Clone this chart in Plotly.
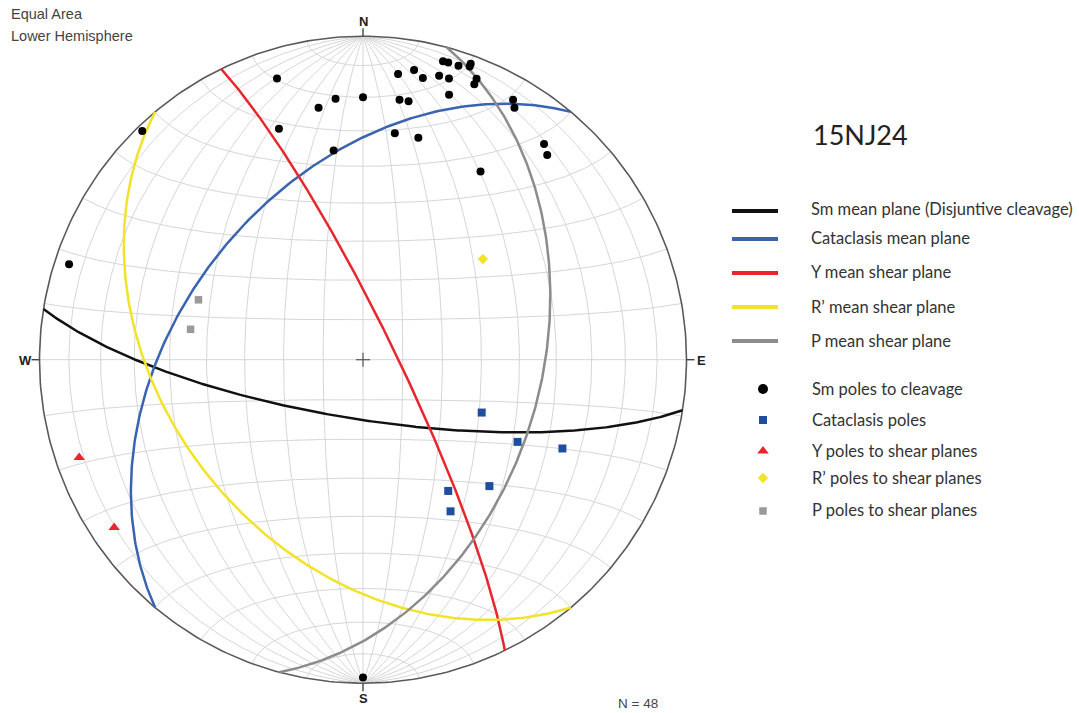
import numpy as np
import plotly.graph_objects as go

# ---------------- data (trend / plunge in degrees) ----------------
sm_trend = [343, 354, 350, 0, 7, 8, 340, 8, 316, 352, 288, 15, 16, 18, 20, 20,
            10, 12, 15, 17, 22, 22, 10, 18, 30, 31, 14, 40, 42, 32, 180]
sm_plunge = [10, 20, 22, 20, 12, 20, 25, 30, 2, 35, 5, 5, 5, 5, 3, 4,
             10, 12, 10, 10, 7, 9, 20, 15, 8, 10, 30, 14, 16, 32, 2]

cat_trend = [114, 118, 114, 135, 147, 150]
cat_plunge = [57, 45, 33, 44, 50, 45]

y_trend = [251, 236]
y_plunge = [8, 8]

rp_trend = [50]
rp_plunge = [50]

p_trend = [290, 280]
p_plunge = [45, 45]

# mean planes: dip direction / dip
plane_labels = ["Sm mean plane (Disjuntive cleavage)", "Cataclasis mean plane",
                "Y mean shear plane", "R\u2019 mean shear plane", "P mean shear plane"]
plane_dipdir = [189, 310, 64, 230, 105]
plane_dip = [75, 44, 82, 40, 44]
plane_colors = ["#111111", "#3a64b0", "#e8262e", "#f2e22a", "#8c8c8c"]

pole_labels = ["Sm poles to cleavage", "Cataclasis poles", "Y poles to shear planes",
               "R\u2019 poles to shear planes", "P poles to shear planes"]

N_TOTAL = 48

# ---------------- geometry helpers ----------------
W, H = 1079, 713
CX, CY, R = 363.0, 359.7, 323.5


def px2d(px, py):
    return (px - CX) / R, (CY - py) / R


def proj_vec(x, y, z):
    z = np.minimum(z, 0)
    d = np.sqrt(1 - z)
    return x / d, y / d


def proj_line(trend, plunge):
    t = np.radians(np.asarray(trend, float))
    p = np.radians(np.asarray(plunge, float))
    x = np.cos(p) * np.sin(t)
    y = np.cos(p) * np.cos(t)
    z = -np.sin(p)
    return proj_vec(x, y, z)


def great_circle(dipdir, dip, n=241):
    dd = np.radians(dipdir)
    dp = np.radians(dip)
    s = np.array([np.sin(dd - np.pi / 2), np.cos(dd - np.pi / 2), 0.0])
    d = np.array([np.sin(dd) * np.cos(dp), np.cos(dd) * np.cos(dp), -np.sin(dp)])
    t = np.linspace(0, np.pi, n)
    v = np.outer(np.cos(t), s) + np.outer(np.sin(t), d)
    return proj_vec(v[:, 0], v[:, 1], v[:, 2])


def small_circle_ns(alpha, n=181):
    a = np.radians(alpha)
    phi = np.linspace(0, np.pi, n)
    x = np.sin(a) * np.cos(phi)
    y = np.full_like(phi, np.cos(a))
    z = -np.sin(a) * np.sin(phi)
    return proj_vec(x, y, z)


fig = go.Figure()

# ---------------- net grid ----------------
gx, gy = [], []
for dip in range(10, 90, 10):
    for dd in (90, 270):
        X, Y = great_circle(dd, dip)
        gx += list(X) + [None]
        gy += list(Y) + [None]
X, Y = great_circle(90, 90)
gx += list(X) + [None]
gy += list(Y) + [None]
for alpha in range(10, 180, 10):
    X, Y = small_circle_ns(alpha)
    gx += list(X) + [None]
    gy += list(Y) + [None]
fig.add_trace(go.Scatter(x=gx, y=gy, mode="lines", line=dict(color="#d6d6d6", width=1),
                         hoverinfo="skip", showlegend=False))

# primitive
th = np.linspace(0, 2 * np.pi, 361)
fig.add_trace(go.Scatter(x=np.cos(th), y=np.sin(th), mode="lines",
                         line=dict(color="#5a5a5a", width=1.6), hoverinfo="skip", showlegend=False))

# ---------------- mean planes ----------------
for lab, dd, dp, col in zip(plane_labels, plane_dipdir, plane_dip, plane_colors):
    X, Y = great_circle(dd, dp)
    fig.add_trace(go.Scatter(x=X, y=Y, mode="lines", line=dict(color=col, width=2.5),
                             name=lab, showlegend=False))

# ---------------- poles ----------------
pole_sets = [
    (sm_trend, sm_plunge, "circle", "#000000", 8),
    (cat_trend, cat_plunge, "square", "#1f4e9e", 8),
    (y_trend, y_plunge, "triangle-up", "#e8262e", 10),
    (rp_trend, rp_plunge, "diamond", "#f2e22a", 8),
    (p_trend, p_plunge, "square", "#9a9a9a", 7.5),
]
for lab, (tr, pl, sym, col, sz) in zip(pole_labels, pole_sets):
    X, Y = proj_line(tr, pl)
    fig.add_trace(go.Scatter(x=X, y=Y, mode="markers", name=lab,
                             marker=dict(symbol=sym, color=col, size=sz, line=dict(width=0)),
                             showlegend=False))

# ---------------- custom legend ----------------
line_y = [211, 239, 273, 307, 341]
for yy, col in zip(line_y, plane_colors):
    x0, y0 = px2d(732, yy)
    x1, _ = px2d(778, yy)
    fig.add_trace(go.Scatter(x=[x0, x1], y=[y0, y0], mode="lines",
                             line=dict(color=col, width=4), hoverinfo="skip", showlegend=False))
mark_y = [389, 420, 451, 478, 511]
leg_sizes = [10, 8, 10, 8, 7.5]
for yy, (tr, pl, sym, col, sz), lsz in zip(mark_y, pole_sets, leg_sizes):
    xx, y0 = px2d(763, yy)
    fig.add_trace(go.Scatter(x=[xx], y=[y0], mode="markers",
                             marker=dict(symbol=sym, color=col, size=lsz, line=dict(width=0)),
                             hoverinfo="skip", showlegend=False))

annotations = []
LEG_FONT = dict(family="Lato, sans-serif", size=16.5, color="#333333")
for yy, lab in zip([209, 238, 272, 307, 341], plane_labels):
    annotations.append(dict(x=809 / W, y=1 - yy / H, xref="paper", yref="paper", text=lab,
                            showarrow=False, xanchor="left", yanchor="middle", font=LEG_FONT))
for yy, lab in zip([389, 420, 451, 478, 510], pole_labels):
    annotations.append(dict(x=810 / W, y=1 - yy / H, xref="paper", yref="paper", text=lab,
                            showarrow=False, xanchor="left", yanchor="middle", font=LEG_FONT))

# title and notes
annotations.append(dict(x=811 / W, y=1 - 135 / H, xref="paper", yref="paper", text="15NJ24",
                        showarrow=False, xanchor="left", yanchor="middle",
                        font=dict(family="Lato, sans-serif", size=27, color="#222222")))
NOTE_FONT = dict(family="Liberation Sans, Arial, sans-serif", size=14.5, color="#444444")
annotations.append(dict(x=9 / W, y=1 - 14 / H, xref="paper", yref="paper", text="Equal Area",
                        showarrow=False, xanchor="left", yanchor="middle", font=NOTE_FONT))
annotations.append(dict(x=9 / W, y=1 - 36 / H, xref="paper", yref="paper", text="Lower Hemisphere",
                        showarrow=False, xanchor="left", yanchor="middle", font=NOTE_FONT))
annotations.append(dict(x=638 / W, y=1 - 703 / H, xref="paper", yref="paper", text=f"N = {N_TOTAL}",
                        showarrow=False, xanchor="center", yanchor="middle",
                        font=dict(family="Liberation Sans, Arial, sans-serif", size=13.5, color="#444444")))

# cardinal labels and ticks
CARD_FONT = dict(family="Liberation Sans, Arial, sans-serif", size=13, color="#222222")
for lab, px, py in [("N", 363, 22), ("E", 701, 360), ("S", 363, 698), ("W", 25, 360)]:
    annotations.append(dict(x=px / W, y=1 - py / H, xref="paper", yref="paper", text=f"<b>{lab}</b>",
                            showarrow=False, xanchor="center", yanchor="middle", font=CARD_FONT))

shapes = []
tick = 8 / R
for (ux, uy) in [(0, 1), (1, 0), (0, -1), (-1, 0)]:
    shapes.append(dict(type="line", xref="x", yref="y", x0=ux, y0=uy,
                       x1=ux * (1 + tick), y1=uy * (1 + tick), line=dict(color="#444444", width=1.4)))
cs = 7 / R
shapes.append(dict(type="line", xref="x", yref="y", x0=-cs, y0=0, x1=cs, y1=0,
                   line=dict(color="#555555", width=1.2)))
shapes.append(dict(type="line", xref="x", yref="y", x0=0, y0=-cs, x1=0, y1=cs,
                   line=dict(color="#555555", width=1.2)))

xmin, _ = px2d(0, 0)
xmax, _ = px2d(W, 0)
_, ymax = px2d(0, 0)
_, ymin = px2d(0, H)

fig.update_layout(
    width=W, height=H,
    margin=dict(l=0, r=0, t=0, b=0),
    paper_bgcolor="white", plot_bgcolor="white",
    xaxis=dict(range=[xmin, xmax], visible=False, fixedrange=True),
    yaxis=dict(range=[ymin, ymax], visible=False, fixedrange=True),
    annotations=annotations,
    shapes=shapes,
    showlegend=False,
)

fig.write_html("out.html", config={"displayModeBar": False},
               post_script="document.body.style.margin='0px';document.body.style.overflow='hidden';")
